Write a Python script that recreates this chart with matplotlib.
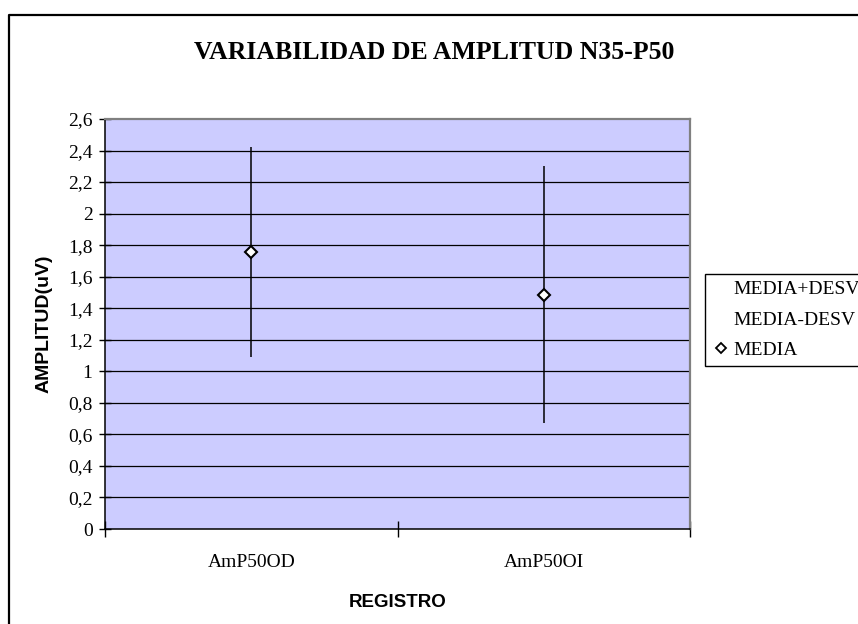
import matplotlib
matplotlib.use('Agg')
import matplotlib.pyplot as plt
from matplotlib.lines import Line2D

# data
categories = ['AmP50OD', 'AmP50OI']
media = [1.755, 1.484]
media_mas_desv = [2.42, 2.302]
media_menos_desv = [1.09, 0.670]
y_ticks = [0, 0.2, 0.4, 0.6, 0.8, 1.0, 1.2, 1.4, 1.6, 1.8, 2.0, 2.2, 2.4, 2.6]
y_tick_labels = ['0', '0,2', '0,4', '0,6', '0,8', '1', '1,2', '1,4', '1,6',
                 '1,8', '2', '2,2', '2,4', '2,6']

serif = 'Liberation Serif'
sans = 'Liberation Sans'

W, H = 858, 624
fig = plt.figure(figsize=(W / 100, H / 100), dpi=100)
fig.patch.set_facecolor('white')

# plot area in pixels: x 105-690, y 119-529
ax = fig.add_axes([105 / W, 1 - 529 / H, 585 / W, 410 / H])
ax.set_facecolor('#CCCCFF')

x = list(range(1, len(categories) + 1))

# gridlines
ax.hlines(y_ticks[1:-1], 0.5, len(categories) + 0.5, colors='black',
          linewidth=0.9, zorder=1)

# high-low lines and mean markers
ax.vlines(x, media_menos_desv, media_mas_desv, colors='black', linewidth=1.1, zorder=2)
ax.plot(x, media, linestyle='none', marker='D', markersize=6,
        markerfacecolor='white', markeredgecolor='black', markeredgewidth=1.5, zorder=3)

ax.set_xlim(0.5, len(categories) + 0.5)
ax.set_ylim(0, 2.6)

ax.set_yticks(y_ticks)
ax.set_yticklabels(y_tick_labels, fontfamily=serif, fontsize=14)
ax.tick_params(axis='y', direction='inout', length=8, width=1, pad=5)

ax.set_xticks(x)
ax.set_xticklabels(categories, fontfamily=serif, fontsize=14)
ax.set_xticks([i + 0.5 for i in range(len(categories) + 1)], minor=True)
ax.tick_params(axis='x', which='major', length=0, pad=18)
ax.tick_params(axis='x', which='minor', direction='inout', length=12, width=1)

for side in ['left', 'bottom']:
    ax.spines[side].set_color('black')
    ax.spines[side].set_linewidth(1.1)
for side in ['top', 'right']:
    ax.spines[side].set_color('#808080')
    ax.spines[side].set_linewidth(1.6)

ax.set_ylabel('AMPLITUD(uV)', fontfamily=sans, fontweight='bold', fontsize=14, va='center')
ax.yaxis.set_label_coords((44 - 105) / 585, 0.5)
ax.set_xlabel('REGISTRO', fontfamily=sans, fontweight='bold', fontsize=13.5, va='top')
ax.xaxis.set_label_coords(0.5, -(594 - 529) / 410)

fig.text(434 / W, 1 - 41 / H, 'VARIABILIDAD DE AMPLITUD N35-P50', ha='center', va='top',
         fontfamily=serif, fontweight='bold', fontsize=18.5)

# legend (box runs off the right edge like the original)
handles = [Line2D([], [], linestyle='none'),
           Line2D([], [], linestyle='none'),
           Line2D([], [], linestyle='none', marker='D', markersize=5,
                  markerfacecolor='white', markeredgecolor='black', markeredgewidth=1.3)]
leg = ax.legend(handles, ['MEDIA+DESV', 'MEDIA-DESV', 'MEDIA'],
                loc='upper left', bbox_to_anchor=(705 / W, 1 - 274 / H),
                bbox_transform=fig.transFigure, borderaxespad=0,
                prop={'family': serif, 'size': 14}, fancybox=False,
                framealpha=1, edgecolor='black', handlelength=0.9,
                handletextpad=0.2, borderpad=0.35, labelspacing=0.65)
leg.get_frame().set_linewidth(1.0)

# outer chart border (left and top visible, the rest is cut off)
fig.add_artist(Line2D([9 / W, 9 / W, 1.0], [0, 1 - 14.5 / H, 1 - 14.5 / H],
                      color='black', linewidth=1.6))

fig.savefig('out.png', dpi=100)
